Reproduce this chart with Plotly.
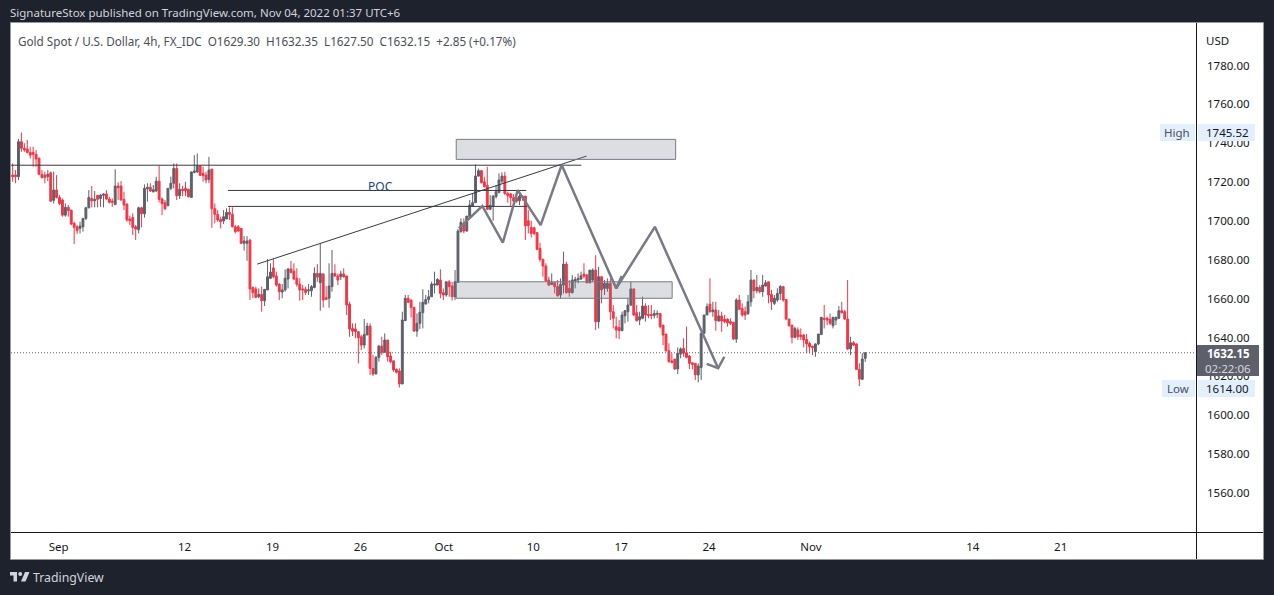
import plotly.graph_objects as go

W, H = 1274, 595

# 4h candles, in bar order
opens = [
    1723.6, 1723.6, 1723.6, 1722.8, 1740.8, 1737.4, 1737.0, 1735.3, 1735.3, 1734.3,
    1732.4, 1724.0, 1723.6, 1722.8, 1724.8, 1710.6, 1715.9, 1712.1, 1710.8, 1703.0,
    1707.0, 1705.6, 1698.8, 1697.0, 1696.2, 1697.0, 1701.3, 1706.8, 1711.6, 1710.4,
    1713.2, 1711.6, 1713.2, 1713.9, 1711.3, 1710.2, 1708.4, 1718.0, 1718.0, 1711.1,
    1708.7, 1701.0, 1701.8, 1697.0, 1695.5, 1706.8, 1703.7, 1716.6, 1717.3, 1715.0,
    1715.4, 1720.5, 1711.3, 1709.4, 1707.8, 1716.8, 1719.4, 1727.0, 1713.0, 1716.3,
    1716.8, 1716.3, 1712.1, 1725.0, 1725.2, 1728.4, 1724.5, 1723.6, 1721.4, 1726.7,
    1706.3, 1703.4, 1700.8, 1700.0, 1701.0, 1704.4, 1703.4, 1697.0, 1697.0, 1696.2,
    1688.5, 1688.5, 1690.2, 1665.8, 1665.0, 1661.0, 1662.2, 1658.9, 1664.5, 1670.5,
    1675.8, 1671.7, 1667.5, 1663.4, 1664.5, 1670.1, 1675.3, 1674.2, 1670.5, 1667.5,
    1665.0, 1664.8, 1664.0, 1664.1, 1665.8, 1673.0, 1668.2, 1672.7, 1660.5, 1660.2,
    1666.2, 1673.0, 1671.7, 1671.3, 1672.7, 1671.7, 1657.2, 1644.7, 1644.4, 1643.0,
    1640.4, 1636.1, 1641.3, 1645.9, 1624.1, 1621.2, 1629.8, 1635.6, 1632.4, 1638.7,
    1630.5, 1628.0, 1623.6, 1622.8, 1616.1, 1648.7, 1660.2, 1659.3, 1655.5, 1643.3,
    1647.3, 1652.8, 1657.2, 1659.6, 1661.0, 1667.0, 1667.0, 1669.6, 1663.1, 1661.9,
    1668.7, 1666.5, 1661.0, 1668.4, 1694.5, 1698.8, 1694.8, 1702.2, 1707.7, 1709.4,
    1723.1, 1725.9, 1720.2, 1718.3, 1706.0, 1707.7, 1712.5, 1714.7, 1720.5, 1723.1,
    1714.2, 1713.9, 1712.0, 1712.0, 1710.4, 1712.8, 1712.8, 1700.1, 1696.7, 1696.5,
    1694.0, 1685.9, 1680.2, 1676.8, 1669.6, 1667.3, 1668.2, 1666.2, 1661.9, 1667.0,
    1677.8, 1665.3, 1663.1, 1669.1, 1669.6, 1670.1, 1672.7, 1672.2, 1668.2, 1669.6,
    1674.7, 1648.1, 1671.3, 1665.3, 1665.3, 1667.9, 1653.3, 1645.6, 1645.1, 1643.5,
    1651.2, 1653.3, 1656.7, 1665.0, 1652.8, 1649.0, 1649.9, 1656.2, 1651.9, 1651.9,
    1651.4, 1652.0, 1652.4, 1646.4, 1641.8, 1633.2, 1627.9, 1628.9, 1623.8, 1631.5,
    1634.4, 1632.2, 1630.5, 1627.0, 1626.7, 1620.7, 1624.6, 1642.2, 1651.6, 1657.2,
    1653.3, 1654.2, 1648.5, 1651.1, 1649.4, 1649.4, 1648.2, 1647.8, 1639.2, 1659.3,
    1655.0, 1653.3, 1652.4, 1658.4, 1669.6, 1664.1, 1665.8, 1663.6, 1666.5, 1668.7,
    1662.2, 1657.6, 1659.3, 1662.7, 1666.2, 1659.6, 1649.5, 1646.4, 1640.1, 1643.9,
    1641.3, 1641.3, 1639.0, 1637.0, 1635.6, 1632.7, 1636.7, 1641.5, 1649.9, 1649.9,
    1649.4, 1646.1, 1649.0, 1649.9, 1653.8, 1653.3, 1649.5, 1634.1, 1637.3, 1636.7,
    1623.6, 1618.5, 1629.3,
]
highs = [
    1735.6, 1729.6, 1726.2, 1742.2, 1745.5, 1740.0, 1741.7, 1738.2, 1738.2, 1736.5,
    1732.4, 1726.2, 1725.4, 1726.2, 1725.4, 1725.4, 1723.6, 1713.3, 1711.6, 1709.0,
    1708.2, 1705.6, 1699.6, 1697.9, 1699.6, 1701.3, 1707.3, 1715.9, 1718.0, 1715.4,
    1713.3, 1713.9, 1714.2, 1715.9, 1712.5, 1711.6, 1726.6, 1719.9, 1720.5, 1715.0,
    1709.0, 1702.7, 1703.9, 1697.9, 1707.3, 1707.3, 1718.8, 1719.4, 1719.4, 1718.5,
    1722.8, 1728.5, 1712.1, 1710.8, 1716.8, 1722.8, 1729.6, 1729.6, 1719.4, 1718.1,
    1720.2, 1716.5, 1725.4, 1733.9, 1734.8, 1728.4, 1727.9, 1725.4, 1733.0, 1726.7,
    1709.0, 1705.6, 1702.2, 1705.6, 1706.5, 1707.0, 1707.0, 1697.9, 1697.9, 1696.2,
    1692.2, 1692.2, 1690.5, 1666.2, 1666.2, 1665.3, 1666.2, 1664.8, 1680.4, 1678.2,
    1680.4, 1673.9, 1667.9, 1667.5, 1675.1, 1675.6, 1679.4, 1678.2, 1675.6, 1670.5,
    1667.0, 1666.2, 1667.5, 1667.0, 1676.1, 1677.8, 1688.5, 1673.0, 1666.5, 1678.2,
    1685.0, 1677.7, 1673.0, 1674.4, 1675.6, 1671.8, 1658.4, 1647.3, 1647.3, 1643.3,
    1641.3, 1649.5, 1647.6, 1647.3, 1631.0, 1630.5, 1636.1, 1640.4, 1642.1, 1638.7,
    1632.7, 1628.0, 1624.1, 1624.1, 1653.3, 1661.9, 1661.9, 1659.6, 1655.9, 1652.4,
    1658.4, 1664.8, 1661.9, 1664.5, 1668.7, 1673.9, 1670.5, 1675.1, 1665.3, 1668.7,
    1669.6, 1668.7, 1674.7, 1695.8, 1701.3, 1701.3, 1702.5, 1710.8, 1714.2, 1729.1,
    1727.0, 1726.2, 1722.8, 1727.9, 1713.3, 1713.3, 1718.5, 1724.5, 1725.0, 1725.3,
    1715.1, 1714.5, 1713.9, 1715.9, 1714.2, 1713.3, 1712.8, 1705.6, 1700.1, 1697.0,
    1694.0, 1688.8, 1680.7, 1678.2, 1671.3, 1673.0, 1668.7, 1669.6, 1670.4, 1684.2,
    1679.0, 1669.6, 1672.2, 1671.3, 1673.0, 1673.9, 1678.2, 1672.7, 1674.7, 1675.6,
    1682.4, 1676.4, 1671.3, 1669.6, 1670.4, 1670.4, 1656.7, 1650.7, 1649.0, 1653.3,
    1654.2, 1660.2, 1668.7, 1665.3, 1656.7, 1653.3, 1661.0, 1657.6, 1656.7, 1656.7,
    1654.2, 1654.0, 1652.4, 1646.4, 1641.8, 1637.0, 1631.9, 1628.9, 1634.9, 1634.9,
    1639.6, 1645.6, 1631.0, 1627.0, 1626.7, 1626.7, 1642.2, 1651.6, 1657.6, 1670.5,
    1658.4, 1658.4, 1654.2, 1653.3, 1651.6, 1649.9, 1649.9, 1648.2, 1660.2, 1661.9,
    1657.6, 1655.9, 1661.9, 1674.8, 1669.6, 1672.2, 1667.0, 1672.2, 1669.6, 1668.7,
    1664.5, 1661.9, 1665.3, 1667.0, 1666.5, 1659.6, 1649.5, 1646.4, 1645.6, 1645.2,
    1644.7, 1641.8, 1641.8, 1637.9, 1635.6, 1637.0, 1641.8, 1650.4, 1656.7, 1650.7,
    1652.4, 1650.7, 1650.7, 1656.2, 1658.4, 1654.2, 1669.6, 1640.4, 1638.2, 1637.0,
    1626.7, 1631.9, 1632.35,
]
lows = [
    1720.2, 1720.2, 1719.4, 1721.1, 1735.6, 1735.6, 1734.8, 1732.2, 1727.9, 1727.9,
    1723.6, 1721.9, 1719.4, 1720.5, 1709.9, 1709.0, 1711.6, 1708.2, 1702.2, 1702.2,
    1702.2, 1697.9, 1688.1, 1693.3, 1693.6, 1694.5, 1700.5, 1706.5, 1707.0, 1707.0,
    1707.0, 1707.3, 1707.0, 1710.8, 1709.0, 1707.3, 1708.4, 1710.8, 1710.4, 1705.6,
    1699.6, 1697.9, 1692.8, 1690.2, 1693.6, 1696.7, 1701.7, 1709.9, 1715.0, 1714.7,
    1715.0, 1709.6, 1703.0, 1705.6, 1707.7, 1715.9, 1716.8, 1710.8, 1711.3, 1712.8,
    1712.8, 1712.1, 1712.0, 1724.5, 1724.8, 1723.3, 1720.2, 1719.4, 1719.4, 1696.5,
    1698.8, 1699.6, 1696.2, 1698.4, 1701.0, 1700.5, 1696.7, 1693.6, 1694.5, 1688.1,
    1684.7, 1679.5, 1659.3, 1660.2, 1660.2, 1660.2, 1653.3, 1656.2, 1664.5, 1670.1,
    1670.5, 1666.2, 1659.3, 1660.2, 1663.6, 1665.3, 1673.0, 1669.6, 1666.2, 1659.0,
    1659.3, 1661.9, 1661.9, 1661.0, 1665.3, 1668.7, 1653.8, 1655.5, 1659.3, 1655.3,
    1663.6, 1671.3, 1667.0, 1669.6, 1670.8, 1651.6, 1640.4, 1640.8, 1639.6, 1626.7,
    1633.6, 1634.4, 1641.3, 1620.7, 1620.2, 1621.2, 1627.6, 1631.0, 1632.4, 1627.6,
    1626.7, 1622.4, 1621.5, 1614.3, 1616.1, 1648.5, 1657.9, 1650.4, 1643.0, 1640.4,
    1644.4, 1644.7, 1657.2, 1657.6, 1661.0, 1662.7, 1667.0, 1660.2, 1659.3, 1661.0,
    1661.0, 1659.0, 1659.3, 1668.4, 1694.0, 1693.6, 1694.5, 1701.3, 1707.3, 1709.4,
    1722.8, 1719.3, 1717.3, 1705.6, 1705.6, 1700.1, 1711.6, 1714.2, 1719.3, 1713.3,
    1709.4, 1707.7, 1709.4, 1709.4, 1708.2, 1710.4, 1690.2, 1693.6, 1691.5, 1692.7,
    1685.0, 1679.0, 1671.3, 1668.7, 1666.5, 1667.3, 1662.7, 1661.0, 1660.1, 1662.7,
    1662.7, 1661.0, 1662.7, 1665.3, 1667.9, 1669.6, 1670.4, 1667.9, 1667.9, 1668.7,
    1643.8, 1644.7, 1657.6, 1661.9, 1663.6, 1649.0, 1644.7, 1639.6, 1639.2, 1643.5,
    1647.3, 1648.2, 1656.2, 1651.1, 1648.2, 1646.4, 1649.4, 1648.2, 1649.9, 1649.4,
    1649.9, 1650.0, 1644.7, 1636.1, 1632.7, 1627.0, 1626.7, 1623.3, 1621.2, 1629.3,
    1630.1, 1629.3, 1623.8, 1623.6, 1618.1, 1616.9, 1618.1, 1641.8, 1651.6, 1652.8,
    1650.7, 1643.5, 1648.2, 1643.0, 1647.3, 1645.6, 1646.4, 1638.7, 1637.3, 1654.2,
    1650.7, 1649.0, 1651.6, 1655.9, 1660.2, 1662.7, 1662.7, 1661.0, 1666.2, 1657.6,
    1654.2, 1656.7, 1658.4, 1659.3, 1658.4, 1649.0, 1645.6, 1637.0, 1639.6, 1638.7,
    1638.7, 1634.9, 1631.9, 1631.9, 1631.0, 1630.1, 1636.1, 1641.3, 1644.7, 1646.4,
    1646.4, 1644.7, 1646.4, 1649.5, 1652.4, 1649.0, 1633.6, 1631.0, 1635.6, 1623.3,
    1615.0, 1618.1, 1627.5,
]
closes = [
    1722.8, 1722.8, 1722.8, 1740.8, 1737.4, 1736.5, 1735.3, 1733.9, 1734.3, 1731.9,
    1724.0, 1722.3, 1722.3, 1724.0, 1710.2, 1715.9, 1712.1, 1709.0, 1703.0, 1707.0,
    1705.3, 1698.4, 1696.7, 1695.0, 1697.4, 1701.3, 1706.8, 1712.1, 1710.4, 1711.1,
    1711.1, 1713.3, 1713.9, 1711.3, 1709.6, 1709.6, 1718.0, 1717.1, 1710.8, 1708.2,
    1700.5, 1700.1, 1696.7, 1695.8, 1706.8, 1703.7, 1716.8, 1717.3, 1715.4, 1716.1,
    1720.5, 1711.1, 1709.0, 1706.3, 1716.8, 1719.4, 1727.0, 1713.0, 1716.3, 1715.7,
    1715.6, 1712.5, 1725.2, 1725.7, 1728.4, 1723.5, 1723.3, 1721.1, 1726.2, 1706.3,
    1703.4, 1700.5, 1699.6, 1702.2, 1704.4, 1703.4, 1697.0, 1694.5, 1694.8, 1688.5,
    1689.7, 1689.7, 1665.0, 1663.1, 1660.7, 1662.2, 1658.9, 1664.8, 1671.3, 1673.7,
    1671.3, 1667.0, 1663.6, 1664.5, 1670.5, 1675.3, 1673.5, 1670.1, 1667.4, 1664.5,
    1664.5, 1663.2, 1664.5, 1666.2, 1673.0, 1671.1, 1673.0, 1659.3, 1659.6, 1666.5,
    1673.0, 1671.7, 1669.6, 1672.7, 1671.3, 1656.7, 1644.4, 1643.3, 1643.0, 1639.9,
    1636.1, 1641.6, 1645.9, 1624.1, 1621.2, 1629.8, 1635.6, 1632.4, 1638.7, 1630.1,
    1627.6, 1623.3, 1622.1, 1616.1, 1649.0, 1660.2, 1658.1, 1655.4, 1643.3, 1647.3,
    1653.0, 1658.1, 1659.6, 1661.0, 1667.5, 1667.5, 1669.9, 1662.7, 1661.9, 1668.7,
    1666.2, 1661.0, 1668.7, 1694.8, 1699.3, 1694.8, 1702.5, 1708.2, 1709.4, 1723.1,
    1725.9, 1719.7, 1717.6, 1706.0, 1708.0, 1712.8, 1715.1, 1721.1, 1723.1, 1714.2,
    1713.0, 1712.0, 1710.2, 1710.2, 1712.8, 1712.5, 1697.5, 1697.5, 1693.6, 1693.6,
    1685.4, 1680.2, 1676.8, 1669.2, 1667.0, 1668.2, 1666.2, 1661.5, 1667.3, 1677.8,
    1663.1, 1663.1, 1669.6, 1669.9, 1670.4, 1671.8, 1671.6, 1668.2, 1674.7, 1674.7,
    1648.1, 1671.3, 1664.5, 1667.9, 1667.9, 1653.3, 1649.9, 1643.9, 1643.5, 1651.6,
    1653.8, 1656.7, 1665.0, 1651.6, 1648.7, 1650.7, 1656.2, 1651.6, 1651.4, 1651.4,
    1652.4, 1652.4, 1645.6, 1641.3, 1633.2, 1627.6, 1627.2, 1623.8, 1631.9, 1634.1,
    1631.9, 1629.8, 1626.7, 1626.2, 1620.9, 1625.3, 1642.2, 1651.6, 1655.9, 1653.3,
    1654.2, 1648.7, 1651.1, 1648.5, 1648.2, 1647.6, 1647.3, 1639.2, 1659.3, 1654.5,
    1651.6, 1651.6, 1658.4, 1669.6, 1664.1, 1665.8, 1663.6, 1667.0, 1668.2, 1661.9,
    1658.4, 1660.2, 1662.7, 1666.2, 1659.3, 1649.5, 1646.1, 1640.1, 1644.7, 1640.4,
    1640.4, 1638.7, 1636.7, 1635.3, 1634.8, 1636.7, 1641.8, 1650.4, 1649.4, 1649.0,
    1647.3, 1650.4, 1650.4, 1653.8, 1652.8, 1649.5, 1634.1, 1637.3, 1636.1, 1623.6,
    1618.6, 1628.9, 1632.15,
]
bars = list(range(len(closes)))

price_ticks = [1560, 1580, 1600, 1620, 1640, 1660, 1680, 1700, 1720, 1740, 1760, 1780]
date_ticks = [16.7, 59.7, 89.7, 119.7, 148.2, 178.7, 208.7, 238.7, 273.5, 328.7, 358.7]
date_labels = ["Sep", "12", "19", "26", "Oct", "10", "17", "24", "Nov", "14", "21"]

# drawings on the chart (bar, price)
upper_zone = [152.4, 227.3, 1731.7, 1742.0]
lower_zone = [152.4, 226.1, 1660.2, 1668.7]
top_line_x, top_line_y = [-2, 195.1], [1728.7, 1728.7]
poc_line_x, poc_line_y = [74.5, 176.3], [1715.7, 1715.7]
val_line_x, val_line_y = [74.5, 176.5], [1707.5, 1707.5]
trend_x, trend_y = [84.5, 196.9], [1677.8, 1733.4]
zig1_x = [153.3, 161.3, 168.3, 173.4, 181.2, 188.4, 207.0, 208.9]
zig1_y = [1696.2, 1707.7, 1688.8, 1715.9, 1697.9, 1728.8, 1665.3, 1671.7]
zig2_x = [207.0, 220.2, 241.8]
zig2_y = [1665.3, 1697.0, 1624.2]
barb_x = [237.9, 241.8, 243.9]
barb_y = [1626.4, 1624.2, 1630.1]

last_price = 1632.15
high_price = 1745.52
low_price = 1614.00

DARK = "#1e222d"
UP = "#5d606b"
DOWN = "#f23645"
DRAW = "#787b86"
INK = "#131722"
FONT = "Noto Sans"


def px(x):
    return x / W


def py(y):
    return 1 - y / H


def box(x0, y0, x1, y1, fill, line=None):
    return dict(type="rect", xref="paper", yref="paper", x0=px(x0), x1=px(x1), y0=py(y0), y1=py(y1),
                fillcolor=fill, line=dict(color=line or fill, width=1 if line else 0), layer="above")


def rule(x0, y0, x1, y1, color=INK):
    return dict(type="line", xref="paper", yref="paper", x0=px(x0), x1=px(x1), y0=py(y0), y1=py(y1),
                line=dict(color=color, width=1), layer="above")


def label(x, y, text, size=11.5, color=INK, anchor="left", **kw):
    return dict(xref="paper", yref="paper", x=px(x), y=py(y), text=text, showarrow=False, xanchor=anchor,
                yanchor="middle", font=dict(family=FONT, size=size, color=color), **kw)


def zone(z):
    return dict(type="rect", xref="x", yref="y", x0=z[0], x1=z[1], y0=z[2], y1=z[3],
                fillcolor="rgba(120,123,134,0.25)", line=dict(color=DRAW, width=1), layer="above")


fig = go.Figure()
fig.add_trace(go.Candlestick(
    x=bars, open=opens, high=highs, low=lows, close=closes,
    increasing=dict(line=dict(color=UP, width=1), fillcolor=UP),
    decreasing=dict(line=dict(color=DOWN, width=1), fillcolor=DOWN),
    whiskerwidth=0, hoverinfo="skip",
))
for lx, ly in [(top_line_x, top_line_y), (poc_line_x, poc_line_y), (val_line_x, val_line_y), (trend_x, trend_y)]:
    fig.add_trace(go.Scatter(x=lx, y=ly, mode="lines", line=dict(color="#363a45", width=1), hoverinfo="skip"))
for lx, ly in [(zig1_x, zig1_y), (zig2_x, zig2_y), (barb_x, barb_y)]:
    fig.add_trace(go.Scatter(x=lx, y=ly, mode="lines", line=dict(color=DRAW, width=2.5), hoverinfo="skip"))

shapes = [
    dict(type="rect", xref="paper", yref="paper", x0=px(10.5), x1=px(1263.5), y0=py(22.5), y1=py(559.5),
         fillcolor="white", line=dict(color="#9598a1", width=1), layer="below"),
    zone(upper_zone),
    zone(lower_zone),
    dict(type="line", xref="x domain", yref="y", x0=0, x1=1, y0=last_price, y1=last_price,
         line=dict(color=UP, width=1, dash="1px,2px"), layer="above"),
    rule(1196.5, 23, 1196.5, 559),
    rule(11, 532.5, 1263, 532.5),
    box(1160, 124, 1195, 141, "#e3effd"),
    box(1198, 124, 1255, 141, "#e3effd"),
    box(1162, 380, 1195, 397, "#e3effd"),
    box(1198, 380, 1255, 397, "#e3effd"),
    box(1197, 345, 1259, 376, "#5d606b"),
    # TradingView mark
    dict(type="path", xref="paper", yref="paper", layer="above", fillcolor="#d1d4dc", line=dict(width=0),
         path=f"M{px(10)},{py(572)} L{px(17)},{py(572)} L{px(17)},{py(581.5)} L{px(13.5)},{py(581.5)} "
              f"L{px(13.5)},{py(575.5)} L{px(10)},{py(575.5)} Z"),
    dict(type="path", xref="paper", yref="paper", layer="above", fillcolor="#d1d4dc", line=dict(width=0),
         path=f"M{px(25)},{py(572)} L{px(29.5)},{py(572)} L{px(25.5)},{py(581.5)} L{px(21)},{py(581.5)} Z"),
    dict(type="circle", xref="paper", yref="paper", layer="above", fillcolor="#d1d4dc", line=dict(width=0),
         x0=px(18.2), x1=px(22.2), y0=py(576), y1=py(572)),
]

annotations = [
    label(8, 12, "SignatureStox published on TradingView.com, Nov 04, 2022 01:37 UTC+6", 11.5, "#d1d4dc"),
    label(16, 41, "Gold Spot / U.S. Dollar, 4h, FX_IDC&nbsp;&nbsp;O1629.30&nbsp;&nbsp;H1632.35&nbsp;&nbsp;"
                  "L1627.50&nbsp;&nbsp;C1632.15&nbsp;&nbsp;+2.85 (+0.17%)", 11.7, "#4a4e59"),
    label(1204, 41, "USD", 11.5),
    label(1177, 132.5, "High", 11.5, "#4a4e59", "center"),
    label(1227, 132.5, f"{high_price:.2f}", 11.5, INK, "center"),
    label(1178, 388.5, "Low", 11.5, "#4a4e59", "center"),
    label(1227, 388.5, f"{low_price:.2f}", 11.5, INK, "center"),
    label(1228, 353, f"<b>{last_price:.2f}</b>", 11.5, "white", "center"),
    label(1228, 368, "02:22:06", 11.5, "#d8d9dd", "center"),
    label(31, 577, "TradingView", 12.3, "#d1d4dc"),
    dict(xref="x", yref="y", x=126.7, y=1717.5, text="POC", showarrow=False,
         font=dict(family=FONT, size=12, color="#1a3f8a")),
]

fig.update_layout(
    width=W, height=H, autosize=False, showlegend=False,
    margin=dict(l=0, r=0, t=0, b=0, pad=0),
    paper_bgcolor=DARK, plot_bgcolor="rgba(0,0,0,0)",
    font=dict(family=FONT, size=12, color=INK),
    shapes=shapes, annotations=annotations,
    boxgap=0.2, boxgroupgap=0.2,
    xaxis=dict(domain=[px(11), px(1196)], range=[0.44, 404.9], rangeslider=dict(visible=False),
               showgrid=False, zeroline=False, tickmode="array", tickvals=date_ticks, ticktext=date_labels,
               ticks="", ticklabelstandoff=6, tickfont=dict(size=11.5)),
    yaxis=dict(domain=[py(532), py(23)], range=[1539.9, 1801.9], side="right",
               showgrid=False, zeroline=False, tickmode="array", tickvals=price_ticks,
               ticktext=[f"{p:.2f}" for p in price_ticks], ticks="", ticklabelstandoff=10, tickfont=dict(size=11.5)),
)

fig.write_html("out.html", config={"displayModeBar": False}, post_script="document.body.style.margin='0';")
